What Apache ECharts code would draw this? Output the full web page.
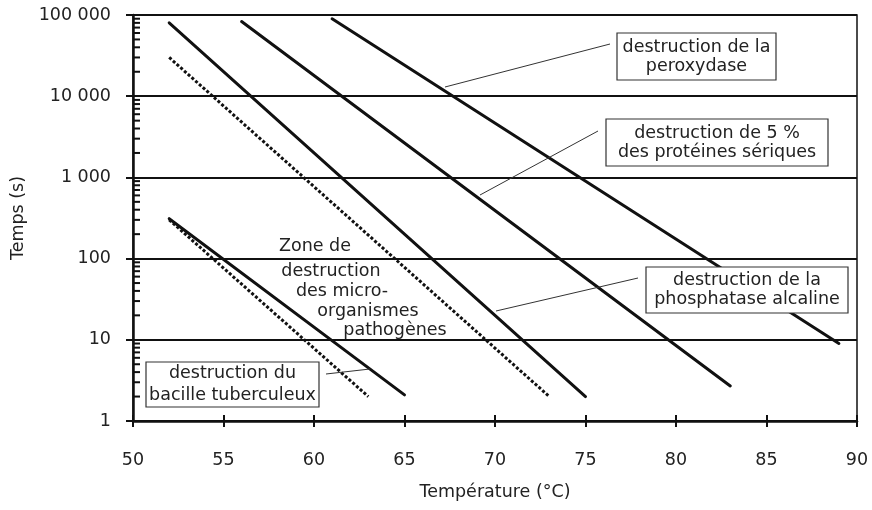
<!DOCTYPE html>
<html>
<head>
<meta charset="utf-8">
<script src="https://cdn.jsdelivr.net/npm/echarts@6/dist/echarts.min.js"></script>
<style>
html,body{margin:0;padding:0;background:#fff;}
#chart{width:872px;height:510px;}
</style>
</head>
<body>
<div id="chart"></div>
<script>
// ---- Data ----
const xTicks = [50, 55, 60, 65, 70, 75, 80, 85, 90];
const yTickValues = [1, 10, 100, 1000, 10000, 100000];
const yTickLabels = ['1', '10', '100', '1 000', '10 000', '100 000'];
const yMinorTicks = [2,3,4,5,6,7,8,9, 20,30,40,50,60,70,80,90, 200,300,400,500,600,700,800,900,
  2000,3000,4000,5000,6000,7000,8000,9000, 20000,30000,40000,50000,60000,70000,80000,90000];

const peroxydase = [[61, 90000], [89, 9]];
const proteinesSeriques = [[56, 83000], [83, 2.7]];
const phosphatase = [[52, 80000], [75, 2]];
const pathogenesHaut = [[52, 30000], [73, 2]];
const tuberculeux = [[52, 310], [65, 2.1]];
const pathogenesBas = [[52, 300], [63, 2]];

const FONT = 'DejaVu Sans';
const FS = 17.5;
const INK = '#111';

const chart = echarts.init(document.getElementById('chart'));

function solid(name, data) {
  return { name, type: 'line', data, symbol: 'none', z: 5,
    lineStyle: { color: INK, width: 3, cap: 'round' } };
}
function dashed(name, data) {
  return { name, type: 'line', data, symbol: 'none', z: 5,
    lineStyle: { color: INK, width: 3, type: [3, 2] } };
}

function box(x, y, w, h, text, lh) {
  return [
    { type: 'rect', z: 100, shape: { x, y, width: w, height: h },
      style: { fill: '#fff', stroke: '#333', lineWidth: 1.2 } },
    { type: 'text', z: 101, x: x + w / 2, y: y + h / 2,
      style: { text, font: FS + 'px "' + FONT + '"', fill: '#222',
        align: 'center', verticalAlign: 'middle', lineHeight: lh || 20 } }
  ];
}
function leader(x1, y1, x2, y2) {
  return { type: 'line', z: 99, shape: { x1, y1, x2, y2 },
    style: { stroke: '#333', lineWidth: 1 } };
}
function ztext(x, y, text) {
  return { type: 'text', z: 101, x, y,
    style: { text, font: FS + 'px "' + FONT + '"', fill: '#222', align: 'center', verticalAlign: 'middle' } };
}

const option = {
  animation: false,
  backgroundColor: '#fff',
  grid: { left: 133, right: 15, top: 15, bottom: 89, show: true, borderColor: INK, borderWidth: 1.5 },
  xAxis: [
    { type: 'value', min: 50, max: 90, interval: 5,
      name: 'Température (°C)', nameLocation: 'middle', nameGap: 62,
      nameTextStyle: { fontFamily: FONT, fontSize: FS, color: '#222' },
      axisLine: { show: true, lineStyle: { color: INK, width: 2.5 } },
      axisTick: { show: true, length: 6, lineStyle: { color: INK, width: 2 } },
      axisLabel: { margin: 30, fontFamily: FONT, fontSize: FS, color: '#222',
        formatter: v => xTicks.indexOf(v) >= 0 ? String(v) : '' },
      splitLine: { show: false } },
    { type: 'value', min: 50, max: 90, interval: 5, position: 'bottom',
      axisLine: { show: false },
      axisTick: { show: true, inside: true, length: 6, lineStyle: { color: INK, width: 2 } },
      axisLabel: { show: false }, splitLine: { show: false } }
  ],
  yAxis: {
    type: 'log', logBase: 10, min: 1, max: 100000,
    name: 'Temps (s)', nameLocation: 'middle', nameGap: 104, nameRotate: 90,
    nameTextStyle: { fontFamily: FONT, fontSize: FS, color: '#222' },
    axisLine: { show: true, lineStyle: { color: INK, width: 2.5 } },
    axisTick: { show: true, length: 7, lineStyle: { color: INK, width: 2 } },
    axisLabel: { margin: 22, fontFamily: FONT, fontSize: FS, color: '#222',
      formatter: v => { const i = yTickValues.indexOf(Math.round(v)); return i >= 0 ? yTickLabels[i] : ''; } },
    splitLine: { show: true, lineStyle: { color: INK, width: 2 } }
  },
  series: [
    { name: 'minor', type: 'custom', z: 4, silent: true,
      data: yMinorTicks.map(v => [50, v]),
      renderItem: (params, api) => {
        const p = api.coord([api.value(0), api.value(1)]);
        return { type: 'line', shape: { x1: p[0], y1: p[1], x2: p[0] + 7, y2: p[1] },
          style: { stroke: INK, lineWidth: 2 } };
      } },
    solid('peroxydase', peroxydase),
    solid('protéines sériques', proteinesSeriques),
    solid('phosphatase alcaline', phosphatase),
    dashed('pathogènes haut', pathogenesHaut),
    solid('bacille tuberculeux', tuberculeux),
    dashed('pathogènes bas', pathogenesBas)
  ],
  graphic: [
    leader(610, 44, 445, 87),
    leader(598, 131, 480, 195),
    leader(638, 278, 496, 311),
    leader(326, 374, 370, 369),
    ...box(617, 33, 159, 47, 'destruction de la\nperoxydase', 19),
    ...box(606, 119, 222, 47, 'destruction de 5 %\ndes protéines sériques', 19),
    ...box(646, 267, 202, 46, 'destruction de la\nphosphatase alcaline', 19),
    ...box(146, 362, 173, 45, 'destruction du\nbacille tuberculeux', 22),
    ztext(315, 246, 'Zone de'),
    ztext(331, 271, 'destruction'),
    ztext(342, 291, 'des micro-'),
    ztext(368, 311, 'organismes'),
    ztext(395, 330, 'pathogènes')
  ]
};
chart.setOption(option);
</script>
</body>
</html>
